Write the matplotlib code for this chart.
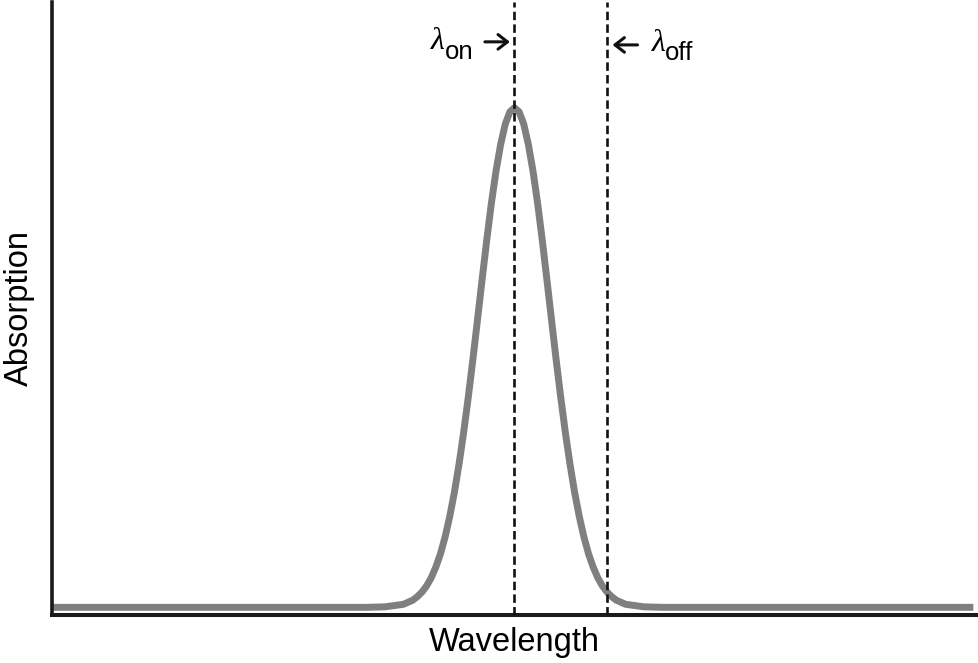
import numpy as np
import matplotlib
matplotlib.use("Agg")
import matplotlib.pyplot as plt

plt.rcParams['font.family'] = ['Liberation Sans', 'DejaVu Sans']

# absorption line (arbitrary units)
wavelength = [0, 34, 36, 38, 39, 39.5, 40, 40.5, 41, 41.5, 42, 42.5, 43, 43.5,
              44, 44.5, 45, 45.5, 46, 46.5, 47, 47.5, 48, 48.5, 49, 49.5, 50,
              50.5, 51, 51.5, 52, 52.5, 53, 53.5, 54, 54.5, 55, 55.5, 56, 56.5,
              57, 57.5, 58, 58.5, 59, 59.5, 60, 60.5, 61, 62, 64, 66, 80, 99.6]
absorption = [0.015, 0.015, 0.016, 0.021, 0.029, 0.036, 0.045, 0.057, 0.073, 0.094,
              0.120, 0.153, 0.193, 0.240, 0.295, 0.357, 0.426, 0.500, 0.578, 0.657,
              0.734, 0.806, 0.869, 0.921, 0.961, 0.985, 0.993,
              0.985, 0.961, 0.921, 0.869, 0.806, 0.734, 0.657, 0.578, 0.500, 0.426,
              0.357, 0.295, 0.240, 0.193, 0.153, 0.120, 0.094, 0.073, 0.057, 0.045,
              0.036, 0.029, 0.021, 0.016, 0.015, 0.015, 0.015]

lambda_on = 50
lambda_off = 60

fig = plt.figure(figsize=(9.79, 6.63), dpi=100)
ax = fig.add_axes([52/979, 48/663, 925/979, 613/663])

ax.plot(wavelength, absorption, color='#7f7f7f', lw=5, solid_capstyle='butt',
        solid_joinstyle='round', zorder=2)

for xv in (lambda_on, lambda_off):
    ax.axvline(xv, color='#111111', lw=1.9, dashes=(3.2, 1.6), zorder=3)

ax.set_xlim(0, 100)
ax.set_ylim(0, 1.2)

for side in ('top', 'right'):
    ax.spines[side].set_visible(False)
ax.spines['left'].set_linewidth(2.6)
ax.spines['bottom'].set_linewidth(2.9)
ax.spines['left'].set_color('#1a1a1a')
ax.spines['bottom'].set_color('#1a1a1a')
ax.set_xticks([])
ax.set_yticks([])

ax.set_xlabel('Wavelength', fontsize=23.5, labelpad=9)
ax.set_ylabel('Absorption', fontsize=23.5, labelpad=12)

arrow_style = dict(arrowstyle='->,head_length=0.45,head_width=0.35',
                   lw=2.2, color='#111111', mutation_scale=15,
                   shrinkA=0, shrinkB=0)

# lambda labels with arrows
ax.text(42.5, 1.108, 'λ', fontsize=23, style='italic', family='Liberation Serif',
        ha='right', va='baseline')
ax.text(42.5, 1.088, 'on', fontsize=18.5, ha='left', va='baseline')
ax.annotate('', xy=(49.5, 1.122), xytext=(46.8, 1.122), arrowprops=arrow_style)

ax.text(66.3, 1.104, 'λ', fontsize=23, style='italic', family='Liberation Serif',
        ha='right', va='baseline')
ax.text(66.3, 1.086, 'off', fontsize=18.5, ha='left', va='baseline')
ax.annotate('', xy=(60.6, 1.116), xytext=(63.3, 1.116), arrowprops=arrow_style)

fig.savefig('out.png', dpi=100)
